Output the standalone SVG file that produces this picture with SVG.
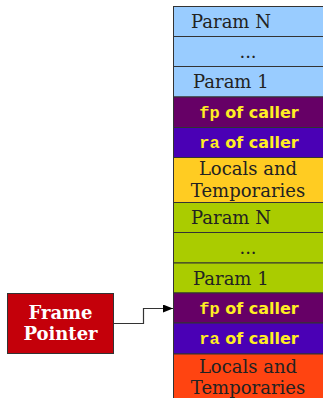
<svg xmlns="http://www.w3.org/2000/svg" width="323" height="398" viewBox="0 0 323 398">
<defs>
<style>
.cell{stroke:#333;stroke-width:1}
.ser{font-family:"DejaVu Serif",serif;font-size:18px;fill:#222}
.reg{font-family:"DejaVu Sans",sans-serif;font-size:16px;font-weight:bold;fill:#ffee22}
.mono{font-family:"Liberation Mono",monospace;font-weight:bold;font-size:17px}
.fpt{font-family:"DejaVu Serif",serif;font-size:18px;font-weight:bold;fill:#fff}
</style>
<marker id="ah" markerWidth="10" markerHeight="8" refX="10" refY="4" orient="auto" markerUnits="userSpaceOnUse">
<path d="M0,0 L10,4 L0,8 z" fill="#000"/>
</marker>
</defs>
<rect width="323" height="398" fill="#fff"/>
<g id="stack">
<g id="paramN1"><rect class="cell" x="173.5" y="6.5" width="152" height="30" fill="#99ccff"/><text class="ser" x="191" y="28">Param N</text></g>
<g id="dots1"><rect class="cell" x="173.5" y="36.5" width="152" height="30" fill="#99ccff"/><text class="ser" x="248" y="58" text-anchor="middle">...</text></g>
<g id="param11"><rect class="cell" x="173.5" y="66.5" width="152" height="30.5" fill="#99ccff"/><text class="ser" x="193" y="88">Param 1</text></g>
<g id="fp1"><rect class="cell" x="173.5" y="97" width="152" height="30.5" fill="#660066"/><text class="reg" x="249" y="117.5" text-anchor="middle"><tspan class="mono">fp</tspan> of caller</text></g>
<g id="ra1"><rect class="cell" x="173.5" y="127.5" width="152" height="30" fill="#4a00b5"/><text class="reg" x="249" y="148" text-anchor="middle"><tspan class="mono">ra</tspan> of caller</text></g>
<g id="locals1"><rect class="cell" x="173.5" y="157.5" width="152" height="45" fill="#ffcc22"/><text class="ser" x="248" y="175" text-anchor="middle">Locals and</text><text class="ser" x="248" y="196.5" text-anchor="middle">Temporaries</text></g>
<g id="paramN2"><rect class="cell" x="173.5" y="202.5" width="152" height="30" fill="#aacc00"/><text class="ser" x="191" y="224">Param N</text></g>
<g id="dots2"><rect class="cell" x="173.5" y="232.5" width="152" height="30.5" fill="#aacc00"/><text class="ser" x="248" y="254" text-anchor="middle">...</text></g>
<g id="param12"><rect class="cell" x="173.5" y="263" width="152" height="30" fill="#aacc00"/><text class="ser" x="193" y="284.5">Param 1</text></g>
<g id="fp2"><rect class="cell" x="173.5" y="293" width="152" height="30" fill="#660066"/><text class="reg" x="249" y="313.5" text-anchor="middle"><tspan class="mono">fp</tspan> of caller</text></g>
<g id="ra2"><rect class="cell" x="173.5" y="323" width="152" height="31" fill="#4a00b5"/><text class="reg" x="249" y="344" text-anchor="middle"><tspan class="mono">ra</tspan> of caller</text></g>
<g id="locals2"><rect class="cell" x="173.5" y="354" width="152" height="48" fill="#ff4411"/><text class="ser" x="248" y="373" text-anchor="middle">Locals and</text><text class="ser" x="248" y="394" text-anchor="middle">Temporaries</text></g>
</g>
<g id="framePointer">
<rect x="7.5" y="293.5" width="106" height="60" fill="#c4000a" stroke="#333" stroke-width="1"/>
<text class="fpt" x="60.5" y="319" text-anchor="middle">Frame</text>
<text class="fpt" x="60.5" y="340" text-anchor="middle">Pointer</text>
</g>
<g id="connectors">
<polyline points="113.5,323.5 143.5,323.5 143.5,308.5 173,308.5" fill="none" stroke="#333" stroke-width="1.2" marker-end="url(#ah)"/>
</g>
</svg>
